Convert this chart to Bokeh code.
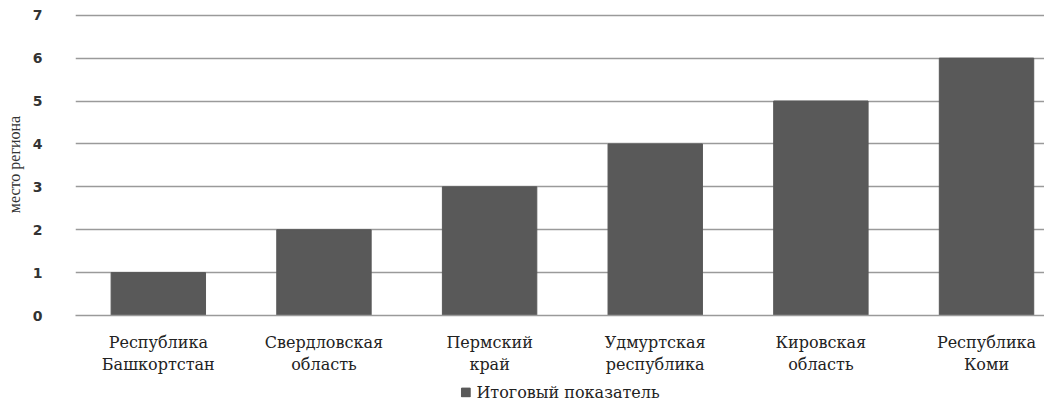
from bokeh.plotting import figure
from bokeh.models import ColumnDataSource, FixedTicker, Legend, LegendItem, Range1d
from bokeh.layouts import column
from bokeh.embed import file_html
from bokeh.resources import INLINE

categories = ["Республика\nБашкортстан", "Свердловская\nобласть", "Пермский\nкрай",
              "Удмуртская\nреспублика", "Кировская\nобласть", "Республика\nКоми"]
values = [1, 2, 3, 4, 5, 6]
series_name = "Итоговый показатель"
y_ticks = [0, 1, 2, 3, 4, 5, 6, 7]
bar_color = "#595959"

xpos = [i + 0.5 for i in range(len(categories))]
src = ColumnDataSource(dict(x=xpos, top=values))

p = figure(width=1044, height=377, output_backend="svg", toolbar_location=None,
           x_range=Range1d(0, 5.85), y_range=Range1d(0, 7.04),
           min_border_left=75, min_border_right=0, min_border_top=13, min_border_bottom=58)
p.outline_line_color = None
p.background_fill_color = "white"

r = p.vbar(x="x", top="top", bottom=0, width=0.57, source=src,
           fill_color=bar_color, line_color=bar_color)

p.xgrid.grid_line_color = None
p.ygrid.grid_line_color = "#9a9a9a"
p.ygrid.grid_line_width = 1.4
p.ygrid.ticker = FixedTicker(ticks=y_ticks)

p.yaxis.ticker = FixedTicker(ticks=y_ticks)
p.yaxis.axis_line_color = None
p.yaxis.major_tick_line_color = None
p.yaxis.minor_tick_line_color = None
p.yaxis.major_label_standoff = 27
p.yaxis.major_label_text_font = "DejaVu Sans"
p.yaxis.major_label_text_font_size = "14px"
p.yaxis.major_label_text_font_style = "bold"
p.yaxis.major_label_text_color = "#333333"
p.yaxis.axis_label = "место региона"
p.yaxis.axis_label_text_font = "Liberation Serif"
p.yaxis.axis_label_text_font_size = "16px"
p.yaxis.axis_label_text_font_style = "normal"
p.yaxis.axis_label_text_color = "#333333"
p.yaxis.axis_label_standoff = 7

p.xaxis.ticker = FixedTicker(ticks=xpos)
p.xaxis.major_label_overrides = {x: c for x, c in zip(xpos, categories)}
p.xaxis.axis_line_color = "#9a9a9a"
p.xaxis.axis_line_width = 1.4
p.xaxis.major_tick_line_color = None
p.xaxis.minor_tick_line_color = None
p.xaxis.major_label_standoff = 11
p.xaxis.major_label_text_font = "DejaVu Serif"
p.xaxis.major_label_text_font_size = "16px"
p.xaxis.major_label_text_color = "#222222"

# legend strip
lg = figure(width=1044, height=30, output_backend="svg", toolbar_location=None,
            x_range=Range1d(0, 1), y_range=Range1d(0, 1),
            min_border=0)
lg.outline_line_color = None
lg.axis.visible = False
lg.grid.visible = False
lr = lg.vbar(x=[5], top=[1], width=0.5, fill_color=bar_color, line_color=bar_color)
legend = Legend(items=[LegendItem(label=series_name, renderers=[lr])],
                location="center", orientation="horizontal",
                border_line_color=None, background_fill_alpha=0,
                label_text_font="DejaVu Serif", label_text_font_size="16px",
                label_text_color="#222222", glyph_width=11, glyph_height=11,
                padding=0, margin=0, label_standoff=6, label_height=14)
lg.add_layout(legend, "center")

layout = column(p, lg, spacing=0)
open("out.html", "w").write(file_html(layout, INLINE))
